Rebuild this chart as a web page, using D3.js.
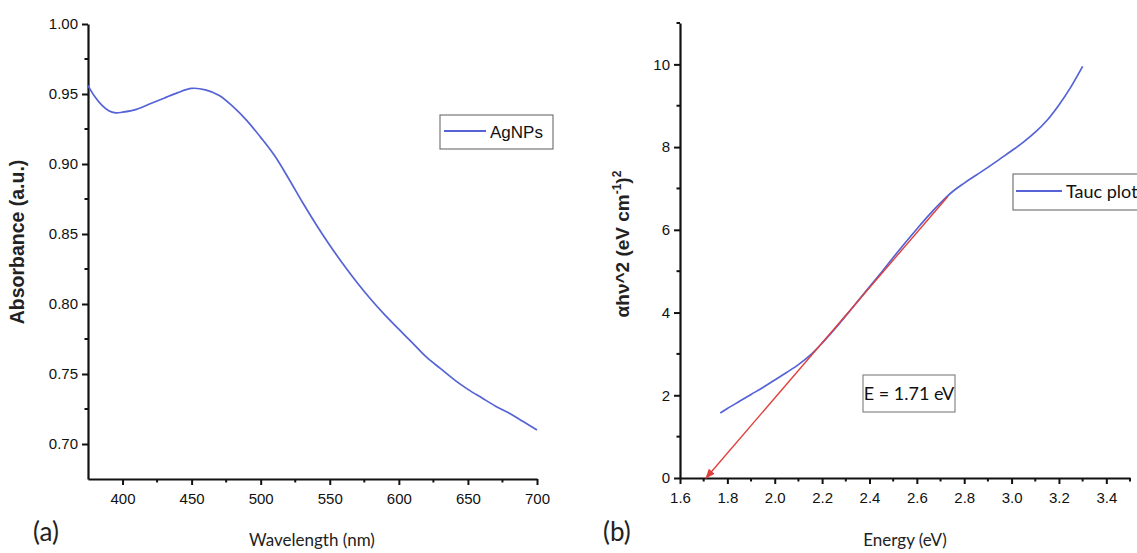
<!DOCTYPE html>
<html><head><meta charset="utf-8">
<script src="https://cdn.jsdelivr.net/npm/d3@7"></script>
<style>
body{margin:0;background:#fff;}
svg{display:block;}
.tick text{font-family:"Liberation Sans",Arial,sans-serif;font-size:15px;fill:#111;}
</style></head>
<body><svg id="c" width="1137" height="553"></svg>
<script>
// Panel (a): UV-Vis absorbance
const wavelength = [375,380,385,390,395,400,410,420,430,440,450,460,470,480,490,500,510,520,530,540,550,560,570,580,590,600,610,620,630,640,650,660,670,680,690,700];
const absorbance = [0.956,0.948,0.942,0.938,0.9365,0.937,0.939,0.943,0.947,0.951,0.954,0.953,0.949,0.941,0.931,0.919,0.906,0.890,0.873,0.857,0.842,0.828,0.815,0.803,0.792,0.782,0.772,0.762,0.754,0.746,0.739,0.733,0.727,0.722,0.716,0.710];
const xTicksA = [400,450,500,550,600,650,700];
const yTicksA = [0.70,0.75,0.80,0.85,0.90,0.95,1.00];

// Panel (b): Tauc plot
const energy = [1.77,1.80,1.85,1.90,1.95,2.00,2.05,2.10,2.15,2.20,2.25,2.30,2.35,2.40,2.45,2.50,2.55,2.60,2.65,2.70,2.75,2.80,2.85,2.90,2.95,3.00,3.05,3.10,3.15,3.20,3.25,3.30];
const tauc = [1.57,1.68,1.85,2.02,2.19,2.37,2.55,2.74,2.97,3.26,3.58,3.92,4.27,4.62,4.97,5.33,5.68,6.02,6.35,6.65,6.92,7.13,7.32,7.51,7.71,7.91,8.12,8.36,8.65,9.02,9.45,9.95];
const fitLineE = [2.73,1.71];
const fitLineY = [6.80,0];
const xTicksB = [1.6,1.8,2.0,2.2,2.4,2.6,2.8,3.0,3.2,3.4];
const yTicksB = [0,2,4,6,8,10];

const svg = d3.select("#c");
const blue = "#5563d6", red = "#e0403c";
const cal = "Lato,'Open Sans',sans-serif";
const arial = "'Liberation Sans',Arial,sans-serif";

function axisStyle(g){
  g.select(".domain").attr("stroke","#111").attr("stroke-width",2.2);
  g.selectAll(".tick line").attr("stroke","#111").attr("stroke-width",2);
}
function minor(g, scale, vals, orient){
  const s = g.append("g");
  vals.forEach(v=>{
    if(orient==="x") s.append("line").attr("x1",scale(v)).attr("x2",scale(v)).attr("y1",0).attr("y2",3.5).attr("stroke","#111").attr("stroke-width",2);
    else s.append("line").attr("y1",scale(v)).attr("y2",scale(v)).attr("x1",0).attr("x2",-3.5).attr("stroke","#111").attr("stroke-width",2);
  });
}

// ---------- Panel A ----------
const xA = d3.scaleLinear().domain([375,700]).range([88,537]);
const yA = d3.scaleLinear().domain([0.675,1.0]).range([479,24]);
const gxA = svg.append("g").attr("transform","translate(0,479)")
  .call(d3.axisBottom(xA).tickValues(xTicksA).tickSize(6).tickSizeOuter(0).tickPadding(8));
axisStyle(gxA);
minor(gxA, xA, [425,475,525,575,625,675], "x");
const gyA = svg.append("g").attr("transform","translate(88,0)")
  .call(d3.axisLeft(yA).tickValues(yTicksA).tickSize(6).tickSizeOuter(0).tickFormat(d3.format(".2f")).tickPadding(4));
axisStyle(gyA);
minor(gyA, yA, [0.725,0.775,0.825,0.875,0.925,0.975], "y");

svg.append("path").datum(wavelength.map((w,i)=>[w,absorbance[i]]))
  .attr("fill","none").attr("stroke",blue).attr("stroke-width",1.7)
  .attr("d", d3.line().x(d=>xA(d[0])).y(d=>yA(d[1])).curve(d3.curveCatmullRom.alpha(0.5)));

svg.append("text").attr("transform","translate(24,242) rotate(-90)").attr("text-anchor","middle")
  .attr("font-family",arial).attr("font-weight","bold").attr("font-size",19.5).attr("fill","#222")
  .text("Absorbance (a.u.)");
svg.append("text").attr("x",312).attr("y",546).attr("text-anchor","middle")
  .attr("font-family",cal).attr("font-size",17).attr("fill","#222").text("Wavelength (nm)");
svg.append("text").attr("x",33).attr("y",541).attr("font-family",cal).attr("font-size",26).attr("fill","#222").text("(a)");

// legend A
svg.append("rect").attr("x",440).attr("y",115).attr("width",113).attr("height",34).attr("fill","#fff").attr("stroke","#777").attr("stroke-width",1.2);
svg.append("line").attr("x1",444).attr("x2",486).attr("y1",131).attr("y2",131).attr("stroke",blue).attr("stroke-width",2);
svg.append("text").attr("x",490).attr("y",138).attr("font-family",arial).attr("font-size",17).attr("fill","#111").text("AgNPs");

// ---------- Panel B ----------
const xB = d3.scaleLinear().domain([1.6,3.5]).range([680,1130]);
const yB = d3.scaleLinear().domain([0,11]).range([478,23]);
const gxB = svg.append("g").attr("transform","translate(0,478)")
  .call(d3.axisBottom(xB).tickValues(xTicksB).tickSize(6).tickSizeOuter(0).tickFormat(d3.format(".1f")).tickPadding(8));
axisStyle(gxB);
minor(gxB, xB, [1.7,1.9,2.1,2.3,2.5,2.7,2.9,3.1,3.3,3.5], "x");
const gyB = svg.append("g").attr("transform","translate(680,0)")
  .call(d3.axisLeft(yB).tickValues(yTicksB).tickSize(6).tickSizeOuter(0).tickPadding(4));
axisStyle(gyB);
minor(gyB, yB, [1,3,5,7,9,11], "y");

svg.append("defs").append("marker").attr("id","arr").attr("viewBox","0 0 10 10").attr("refX",9).attr("refY",5)
  .attr("markerWidth",7).attr("markerHeight",7).attr("orient","auto")
  .append("path").attr("d","M0,1 L10,5 L0,9 Z").attr("fill",red);

svg.append("path").datum(energy.map((e,i)=>[e,tauc[i]]))
  .attr("fill","none").attr("stroke",blue).attr("stroke-width",1.7)
  .attr("d", d3.line().x(d=>xB(d[0])).y(d=>yB(d[1])).curve(d3.curveCatmullRom.alpha(0.5)));
svg.append("line").attr("x1",xB(fitLineE[0])).attr("y1",yB(fitLineY[0])).attr("x2",xB(fitLineE[1])).attr("y2",yB(fitLineY[1]))
  .attr("stroke",red).attr("stroke-width",1.4).attr("marker-end","url(#arr)");

const yt = svg.append("text").attr("transform","translate(629,244) rotate(-90)").attr("text-anchor","middle")
  .attr("font-family",arial).attr("font-weight","bold").attr("font-size",19).attr("fill","#222");
yt.append("tspan").text("αhν^2 (eV cm");
yt.append("tspan").attr("font-size",12).attr("dy",-8).text("-1");
yt.append("tspan").attr("dy",8).text(")");
yt.append("tspan").attr("font-size",12).attr("dy",-8).text("2");

svg.append("text").attr("x",905).attr("y",546).attr("text-anchor","middle")
  .attr("font-family",cal).attr("font-size",17).attr("fill","#222").text("Energy (eV)");
svg.append("text").attr("x",603).attr("y",541).attr("font-family",cal).attr("font-size",26).attr("fill","#222").text("(b)");

// legend B
svg.append("rect").attr("x",1013).attr("y",174).attr("width",130).attr("height",36).attr("fill","#fff").attr("stroke","#777").attr("stroke-width",1.2);
svg.append("line").attr("x1",1016).attr("x2",1062).attr("y1",191).attr("y2",191).attr("stroke",blue).attr("stroke-width",2);
svg.append("text").attr("x",1066).attr("y",198).attr("font-family",cal).attr("font-size",18).attr("fill","#111").text("Tauc plot");

// annotation box
svg.append("rect").attr("x",863).attr("y",375).attr("width",92).attr("height",37).attr("fill","#fff").attr("stroke","#888").attr("stroke-width",1.2);
svg.append("text").attr("x",909).attr("y",400).attr("text-anchor","middle").attr("font-family",cal).attr("font-size",18).attr("fill","#111").text("E = 1.71 eV");
</script></body></html>
